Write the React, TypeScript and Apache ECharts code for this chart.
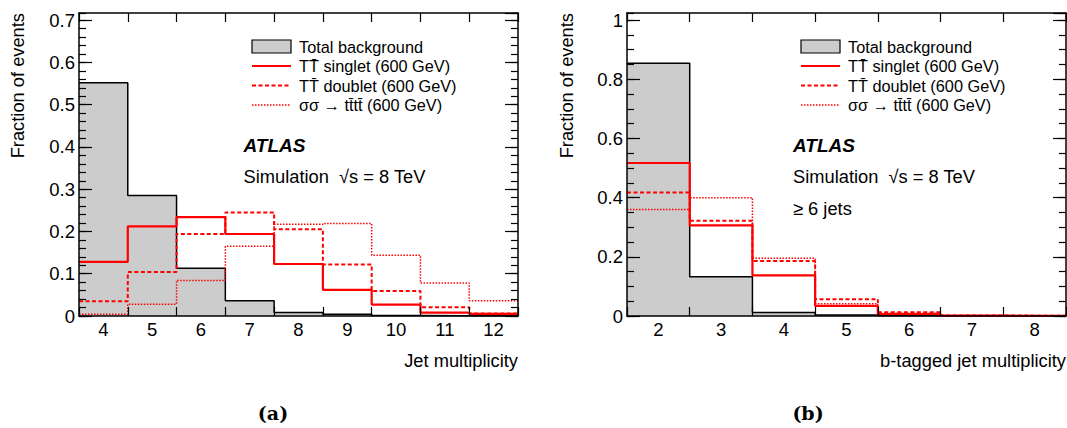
import React, { useEffect, useRef } from "react";
import * as echarts from "echarts";

// ---------- data ----------
const jetCats = ["4", "5", "6", "7", "8", "9", "10", "11", "12"];
const jetBackground = [0.552, 0.285, 0.113, 0.036, 0.008, 0.004, 0.001, 0.0005, 0.0002];
const jetSinglet = [0.128, 0.212, 0.234, 0.194, 0.123, 0.062, 0.027, 0.008, 0.005];
const jetDoublet = [0.035, 0.104, 0.194, 0.245, 0.205, 0.122, 0.059, 0.021, 0.006];
const jetFourTop = [0.004, 0.028, 0.084, 0.165, 0.217, 0.219, 0.144, 0.078, 0.036];

const bCats = ["2", "3", "4", "5", "6", "7", "8"];
const bBackground = [0.854, 0.133, 0.012, 0.003, 0.0005, 0, 0];
const bSinglet = [0.517, 0.306, 0.137, 0.034, 0.006, 0.001, 0.0005];
const bDoublet = [0.417, 0.322, 0.186, 0.057, 0.0125, 0.002, 0.0005];
const bFourTop = [0.36, 0.4, 0.195, 0.041, 0.009, 0.001, 0];

const legendLabels = [
  "Total background",
  "TT\u0304 singlet (600 GeV)",
  "TT\u0304 doublet (600 GeV)",
  "\u03C3\u03C3 \u2192 tt\u0304tt\u0304 (600 GeV)",
];
const yTitle = "Fraction of events";
const xTitles = ["Jet multiplicity", "b-tagged jet multiplicity"];
const captions = ["(a)", "(b)"];

// ---------- style ----------
const SANS = "'Liberation Sans', Arial, Helvetica, sans-serif";
const SERIF = "'DejaVu Serif', 'Liberation Serif', serif";
const RED = "#ff0000";
const GREY = "#cccccc";
const BLACK = "#000000";

const stepData = (cats: string[], vals: number[]) => {
  const pts: number[][] = vals.map((v, i) => [Number(cats[i]) - 0.5, v]);
  const last = vals.length - 1;
  pts.push([Number(cats[last]) + 0.5, vals[last]]);
  return pts;
};

const fmt = (step: number) => (v: number) => {
  const k = v / step;
  if (Math.abs(k - Math.round(k)) > 1e-6) return "";
  if (Math.abs(v) < 1e-9) return "0";
  return String(+v.toFixed(2));
};

const axisLineStyle = { color: BLACK, width: 1.5 };

function panel(
  p: number,
  cats: string[],
  bkg: number[],
  singlet: number[],
  doublet: number[],
  fourTop: number[],
  yMax: number,
  major: number,
  minor: number
) {
  const xAxes = [
    {
      type: "category",
      gridIndex: p,
      position: "bottom",
      data: cats,
      boundaryGap: true,
      axisLine: { show: true, onZero: false, lineStyle: axisLineStyle },
      axisTick: { show: true, inside: true, length: 9, lineStyle: { color: BLACK, width: 1.2 } },
      axisLabel: { color: BLACK, fontSize: 18.5, fontFamily: SANS, margin: 4 },
      splitLine: { show: false },
      z: 10,
    },
    {
      type: "category",
      gridIndex: p,
      position: "top",
      data: cats,
      boundaryGap: true,
      axisLine: { show: true, onZero: false, lineStyle: axisLineStyle },
      axisTick: { show: true, inside: true, length: 9, lineStyle: { color: BLACK, width: 1.2 } },
      axisLabel: { show: false },
      splitLine: { show: false },
      z: 10,
    },
    {
      type: "value",
      gridIndex: p,
      position: "bottom",
      min: Number(cats[0]) - 0.5,
      max: Number(cats[cats.length - 1]) + 0.5,
      show: false,
    },
  ];
  const yAxis = (pos: string, step: number, isMajor: boolean, labels: boolean) => ({
    type: "value",
    gridIndex: p,
    position: pos,
    min: 0,
    max: yMax,
    interval: step,
    axisLine: { show: isMajor, onZero: false, lineStyle: axisLineStyle },
    axisTick: {
      show: true,
      inside: true,
      length: isMajor ? 13 : 7,
      lineStyle: { color: BLACK, width: 1.2 },
    },
    axisLabel: labels
      ? {
          show: true,
          color: BLACK,
          fontSize: 18.5,
          fontFamily: SANS,
          margin: 4,
          showMaxLabel: false,
          formatter: fmt(step),
        }
      : { show: false },
    splitLine: { show: false },
    z: 10,
  });
  const yAxes = [
    yAxis("left", major, true, true),
    yAxis("left", minor, false, false),
    yAxis("right", major, true, false),
    yAxis("right", minor, false, false),
  ];
  const xi = p * 3 + 2;
  const yi = p * 4;
  const base = { type: "line", xAxisIndex: xi, yAxisIndex: yi, step: "end", symbol: "none", silent: true };
  const series = [
    {
      ...base,
      data: stepData(cats, bkg),
      lineStyle: { color: BLACK, width: 1.5 },
      areaStyle: { color: GREY, opacity: 1 },
      z: 2,
    },
    {
      ...base,
      data: stepData(cats, fourTop),
      lineStyle: { color: RED, width: 1.5, type: [1.5, 1.5] },
      z: 3,
    },
    {
      ...base,
      data: stepData(cats, doublet),
      lineStyle: { color: RED, width: 2, type: [4, 2.5] },
      z: 4,
    },
    {
      ...base,
      data: stepData(cats, singlet),
      lineStyle: { color: RED, width: 2.2 },
      z: 5,
    },
  ];
  return { xAxes, yAxes, series };
}

function text(x: number, y: number, s: string, font: string, align = "left", extra: any = {}) {
  return {
    type: "text",
    x,
    y,
    ...extra,
    z: 20,
    style: {
      text: s,
      x: 0,
      y: 0,
      font,
      fill: BLACK,
      textAlign: align,
      align,
      textVerticalAlign: "middle",
      verticalAlign: "middle",
    },
  };
}

function panelGraphics(rectX: number, textX: number, atlasX: number, ylabelX: number, xTitleRight: number, xTitle: string, caption: string, captionX: number, extraLine: string | null) {
  const rowY = [46.5, 66, 85.5, 105];
  const legendFont = `16.3px ${SANS}`;
  const els: any[] = [
    {
      type: "rect",
      z: 20,
      shape: { x: rectX, y: 40, width: 39, height: 13 },
      style: { fill: GREY, stroke: BLACK, lineWidth: 1.2 },
    },
    {
      type: "line",
      z: 20,
      shape: { x1: rectX, y1: rowY[1], x2: rectX + 39, y2: rowY[1] },
      style: { stroke: RED, lineWidth: 2.2 },
    },
    {
      type: "line",
      z: 20,
      shape: { x1: rectX, y1: rowY[2], x2: rectX + 39, y2: rowY[2] },
      style: { stroke: RED, lineWidth: 2, lineDash: [4, 2.5] },
    },
    {
      type: "line",
      z: 20,
      shape: { x1: rectX, y1: rowY[3], x2: rectX + 39, y2: rowY[3] },
      style: { stroke: RED, lineWidth: 1.5, lineDash: [1.5, 1.5] },
    },
  ];
  legendLabels.forEach((l, i) => els.push(text(textX, rowY[i], l, legendFont)));
  els.push(text(atlasX, 145, "ATLAS", `italic bold 19px ${SANS}`));
  els.push(text(atlasX, 176.5, "Simulation  \u221As = 8 TeV", `18.3px ${SANS}`));
  if (extraLine) els.push(text(atlasX, 208, extraLine, `18.3px ${SANS}`));
  els.push(text(ylabelX, 13, yTitle, `18.3px ${SANS}`, "right", { rotation: Math.PI / 2 }));
  els.push(text(xTitleRight, 360, xTitle, `18.3px ${SANS}`, "right"));
  els.push(text(captionX, 413, caption, `bold 19px ${SERIF}`, "center"));
  return els;
}

export default function App() {
  const ref = useRef<HTMLDivElement>(null);
  useEffect(() => {
    if (!ref.current) return;
    const chart = echarts.init(ref.current, undefined, { renderer: "svg" });
    const a = panel(0, jetCats, jetBackground, jetSinglet, jetDoublet, jetFourTop, 0.717, 0.1, 0.02);
    const b = panel(1, bCats, bBackground, bSinglet, bDoublet, bFourTop, 1.024, 0.2, 0.05);
    const option: any = {
      animation: false,
      backgroundColor: "#ffffff",
      grid: [
        { left: 79, top: 13, width: 439, height: 303, containLabel: false },
        { left: 627, top: 13, width: 439, height: 303, containLabel: false },
      ],
      xAxis: [...a.xAxes, ...b.xAxes],
      yAxis: [...a.yAxes, ...b.yAxes],
      series: [...a.series, ...b.series],
      graphic: {
        elements: [
          ...panelGraphics(252, 299, 243.5, 17, 518, xTitles[0], captions[0], 273, null),
          ...panelGraphics(801, 848, 793, 566, 1066, xTitles[1], captions[1], 808, "\u2265 6 jets"),
        ],
      },
    };
    chart.setOption(option);
    return () => chart.dispose();
  }, []);
  return (
    <div
      ref={ref}
      style={{ position: "fixed", left: 0, top: 0, width: 1067, height: 428, background: "#fff" }}
    />
  );
}
